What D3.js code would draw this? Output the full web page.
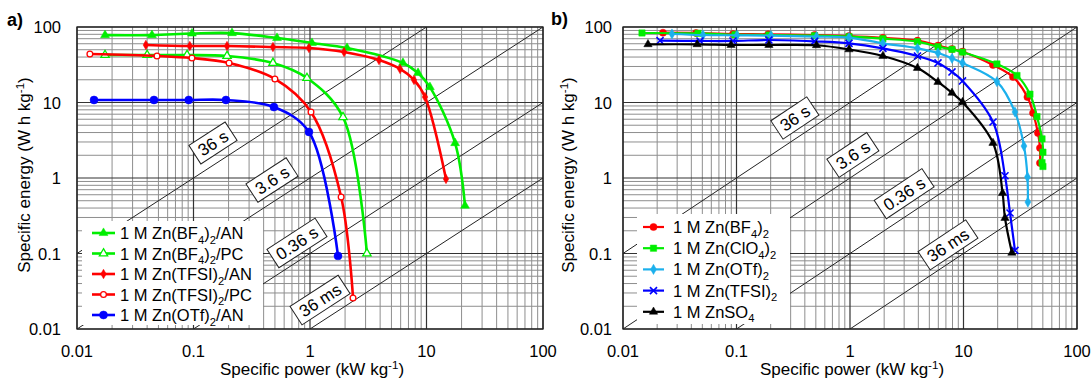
<!DOCTYPE html>
<html><head><meta charset="utf-8">
<script src="https://cdn.jsdelivr.net/npm/d3@7"></script>
<style>body{margin:0;background:#fff}svg{display:block}text{font-family:"Liberation Sans",Arial,sans-serif;fill:#000}</style>
</head><body><svg id="c" width="1092" height="383"></svg>
<script>
// ---------- data ----------
const xTickValues=[0.01,0.1,1,10,100];
const xTickLabels=["0.01","0.1","1","10","100"];
const yTickValues=[0.01,0.1,1,10,100];
const yTickLabels=["0.01","0.1","1","10","100"];
const timeRatios=[10,1,0.1,0.01];           // E/P  (Wh/kg per kW/kg)
const timeLabels=["36 s","3.6 s","0.36 s","36 ms"];
const timeAnchorsA=[[0.147,2.91],[0.472,0.94],[0.773,0.138],[1.22,0.0242]];
const timeAnchorsB=[[0.327,6.24],[1.06,2.02],[3.0,0.62],[7.3,0.13]];

// panel a  [P (kW/kg), E (Wh/kg)]
const aBF4AN=[[0.0174,78],[0.044,78],[0.097,82],[0.214,83],[0.521,71.5],[1.04,61.4],[2.08,52.7],[6.28,33.4],[8.46,24.6],[10.7,16],[17.6,2.9],[21.4,0.43]];
const aBF4PC=[[0.0174,42.5],[0.040,42.5],[0.088,42.5],[0.194,41.3],[0.481,33.4],[0.942,21.1],[1.92,6.4],[3.08,0.10]];
const aTFSIAN=[[0.039,57.8],[0.093,56],[0.194,56],[0.481,54.3],[0.98,52.7],[1.96,46.6],[3.91,36.5],[5.93,27.8],[7.81,19.9],[9.71,11.8],[14.7,0.97]];
const aTFSIPC=[[0.0129,43.9],[0.0486,41.3],[0.097,38.8],[0.202,33.4],[0.50,20.5],[1.02,7.48],[1.85,0.56],[2.34,0.0258]];
const aOTfAN=[[0.014,10.8],[0.0458,10.8],[0.091,10.8],[0.19,10.8],[0.49,8.7],[0.98,4.07],[1.74,0.093]];
const aNames=[
 [["1 M Zn(BF","n"],["4","sub"],[")","n"],["2","sub"],["/AN","n"]],
 [["1 M Zn(BF","n"],["4","sub"],[")","n"],["2","sub"],["/PC","n"]],
 [["1 M Zn(TFSI)","n"],["2","sub"],["/AN","n"]],
 [["1 M Zn(TFSI)","n"],["2","sub"],["/PC","n"]],
 [["1 M Zn(OTf)","n"],["2","sub"],["/AN","n"]]
];

// panel b
const bBF4=[[0.0225,84],[0.044,83.3],[0.0931,80.8],[0.19,80.1],[0.487,78.3],[0.98,76],[1.95,72],[3.93,65.9],[5.96,56.8],[7.92,51.1],[9.8,47.1],[18.2,31.4],[27.3,21.8],[36.6,11.8],[41,7.26],[45.3,3.94],[47.2,2.5],[47.2,1.58]];
const bClO4=[[0.0147,83.3],[0.0458,82.5],[0.097,79.1],[0.193,78.3],[0.487,76.7],[0.98,74.4],[1.95,70],[3.93,63.9],[5.96,54.8],[7.92,50.6],[9.8,46.5],[19.7,32.4],[29.6,22.8],[38.5,12.9],[44.4,6.5],[49.2,3.3],[50.1,2.2],[49.2,1.6],[50.1,1.42]];
const bOTf=[[0.027,80.8],[0.0507,78.3],[0.101,77.6],[0.201,76.7],[0.507,74.5],[0.98,72.5],[1.95,60.8],[3.93,52.2],[5.96,45.3],[7.92,38.5],[9.8,33.4],[19.7,18.9],[28.4,7.48],[34.1,2.65],[36.6,1.03],[36.9,0.48]];
const bTFSI=[[0.0212,65.9],[0.0477,65.3],[0.0931,65.3],[0.193,67.3],[0.487,64.5],[0.98,60.8],[1.95,52.2],[3.93,41.3],[5.96,33.4],[7.92,25.4],[9.8,19.3],[18.2,5.52],[23.2,1.07],[25.7,0.344],[28.4,0.11]];
const bSO4=[[0.0166,59],[0.045,59],[0.0895,57.8],[0.193,57.8],[0.507,57.3],[0.98,50.5],[1.95,41.3],[3.93,28.6],[5.96,18.7],[7.92,13.4],[9.8,10.1],[18.2,2.91],[22.1,0.63],[23.2,0.295],[26.7,0.102]];
const bNames=[
 [["1 M Zn(BF","n"],["4","sub"],[")","n"],["2","sub"]],
 [["1 M Zn(ClO","n"],["4","sub"],[")","n"],["2","sub"]],
 [["1 M Zn(OTf)","n"],["2","sub"]],
 [["1 M Zn(TFSI)","n"],["2","sub"]],
 [["1 M ZnSO","n"],["4","sub"]]
];

// ---------- drawing ----------
const svg=d3.select("#c");
const GREEN="#00ee00",RED="#ff0000",BLUE="#0000ff",LBLUE="#1cb0ec",BLACK="#000";

function rich(sel,parts,size){
  let shift=0;
  parts.forEach(([t,ty])=>{
    const target=ty==="sub"?0.28*size:ty==="sup"?-0.38*size:0;
    sel.append("tspan").attr("dy",target-shift).attr("font-size",ty==="n"?size:size*0.68).text(t);
    shift=target;
  });
}

function marker(sel,m){
  const sym={tri:d3.symbolTriangle,circle:d3.symbolCircle,diamond:d3.symbolDiamond,square:d3.symbolSquare,x:d3.symbolX}[m.shape];
  const p=sel.append("path").attr("d",d3.symbol().type(sym).size(m.size)());
  if(m.shape==="x") p.attr("fill","none").attr("stroke",m.color).attr("stroke-width",1.6);
  else if(m.open) p.attr("fill","#fff").attr("stroke",m.color).attr("stroke-width",1.3);
  else p.attr("fill",m.color).attr("stroke",m.color).attr("stroke-width",0.5);
  return p;
}

function drawPanel(o){
  const g=svg.append("g");
  const x=d3.scaleLog().domain([0.01,100]).range([o.x0,o.x1]);
  const y=d3.scaleLog().domain([0.01,100]).range([o.y1,o.y0]);
  const cid="clip"+o.id;
  svg.append("clipPath").attr("id",cid).append("rect").attr("x",o.x0).attr("y",o.y0).attr("width",o.x1-o.x0).attr("height",o.y1-o.y0);
  const minor=[];for(let d=-2;d<2;d++)for(let m=2;m<10;m++)minor.push(m*Math.pow(10,d));
  const grid=g.append("g");
  grid.selectAll(".vm").data(minor).join("line").attr("x1",d=>x(d)).attr("x2",d=>x(d)).attr("y1",o.y0).attr("y2",o.y1).attr("stroke","#8e8e8e").attr("stroke-width",1);
  grid.selectAll(".hm").data(minor).join("line").attr("y1",d=>y(d)).attr("y2",d=>y(d)).attr("x1",o.x0).attr("x2",o.x1).attr("stroke","#8e8e8e").attr("stroke-width",1);
  grid.selectAll(".vM").data(xTickValues).join("line").attr("x1",d=>x(d)).attr("x2",d=>x(d)).attr("y1",o.y0).attr("y2",o.y1).attr("stroke","#333").attr("stroke-width",1.2);
  grid.selectAll(".hM").data(yTickValues).join("line").attr("y1",d=>y(d)).attr("y2",d=>y(d)).attr("x1",o.x0).attr("x2",o.x1).attr("stroke","#333").attr("stroke-width",1.2);
  // constant-time lines
  g.append("g").attr("clip-path",`url(#${cid})`).selectAll("line").data(timeRatios).join("line")
    .attr("x1",x(0.0001)).attr("y1",k=>y(k*0.0001)).attr("x2",x(100)).attr("y2",k=>y(k*100))
    .attr("stroke","#222").attr("stroke-width",1);
  // legend background
  g.append("rect").attr("x",o.leg.x).attr("y",o.leg.y).attr("width",o.leg.w).attr("height",o.leg.h).attr("fill","#fff");
  // time labels
  const ang=Math.atan2(y(10)-y(1),x(10)-x(1))*180/Math.PI;
  o.anchors.forEach((a,i)=>{
    const lg=g.append("g").attr("transform",`translate(${x(a[0])},${y(a[1])}) rotate(${ang})`);
    const r=lg.append("rect");
    const t=lg.append("text").attr("text-anchor","middle").attr("dy","0.36em").attr("font-size",17).text(timeLabels[i]);
    const w=t.node().getComputedTextLength()+11;
    r.attr("x",-w/2).attr("y",-11).attr("width",w).attr("height",22).attr("fill","#fff").attr("stroke","#222").attr("stroke-width",1);
  });
  // series
  const line=d3.line().x(d=>x(d[0])).y(d=>y(d[1])).curve(d3.curveCatmullRom.alpha(0.5));
  o.series.forEach(s=>{
    g.append("path").attr("d",line(s.data)).attr("fill","none").attr("stroke",s.m.color).attr("stroke-width",o.lw);
    s.data.forEach(d=>marker(g,s.m).attr("transform",`translate(${x(d[0])},${y(d[1])})`));
  });
  // legend entries
  o.series.forEach((s,i)=>{
    const cy=o.leg.y0+i*o.leg.dy;
    g.append("line").attr("x1",o.leg.lx).attr("x2",o.leg.lx+o.leg.lw).attr("y1",cy).attr("y2",cy).attr("stroke",s.m.color).attr("stroke-width",o.lw);
    marker(g,s.m).attr("transform",`translate(${o.leg.lx+o.leg.lw/2},${cy})`);
    const t=g.append("text").attr("x",o.leg.tx).attr("y",cy+6);
    rich(t,o.names[i],16.5);
  });
  // frame
  g.append("rect").attr("x",o.x0).attr("y",o.y0).attr("width",o.x1-o.x0).attr("height",o.y1-o.y0).attr("fill","none").attr("stroke","#222").attr("stroke-width",1.3);
  // tick labels
  g.selectAll(".xt").data(xTickValues).join("text").attr("x",d=>x(d)).attr("y",o.y1+28).attr("text-anchor","middle").attr("font-size",16.5).text((d,i)=>xTickLabels[i]);
  g.selectAll(".yt").data(yTickValues).join("text").attr("x",o.x0-o.ytGap).attr("y",d=>y(d)+6).attr("text-anchor","end").attr("font-size",16.5).text((d,i)=>yTickLabels[i]);
  // axis titles
  const xt=g.append("text").attr("x",x(1)+2).attr("y",o.y1+46).attr("text-anchor","middle");
  rich(xt,[["Specific power  (kW kg","n"],["-1","sup"],[")","n"]],17);
  const yt=g.append("text").attr("transform",`translate(${o.ytx},175) rotate(-90)`).attr("text-anchor","middle");
  rich(yt,[["Specific energy (W h kg","n"],["-1","sup"],[")","n"]],17);
  svg.append("text").attr("x",o.lab[0]).attr("y",o.lab[1]).attr("font-family","Liberation Serif,Times New Roman,serif").attr("font-weight","bold").attr("font-size",18).text(o.label);
}

drawPanel({id:"a",x0:77,x1:543,y0:27,y1:329,lw:2.6,ytGap:16,ytx:30,label:"a)",lab:[7,26],
  anchors:timeAnchorsA,names:aNames,
  leg:{x:82,y:221,w:181,h:104,y0:233,dy:20.5,lx:92,lw:23,tx:120},
  series:[
    {data:aBF4AN,m:{shape:"tri",size:34,color:GREEN}},
    {data:aBF4PC,m:{shape:"tri",size:30,color:GREEN,open:true}},
    {data:aTFSIAN,m:{shape:"diamond",size:26,color:RED}},
    {data:aTFSIPC,m:{shape:"circle",size:26,color:RED,open:true}},
    {data:aOTfAN,m:{shape:"circle",size:50,color:BLUE}}
  ]});

drawPanel({id:"b",x0:623,x1:1077,y0:27,y1:329,lw:2.2,ytGap:11,ytx:574,label:"b)",lab:[551,25],
  anchors:timeAnchorsB,names:bNames,
  leg:{x:637,y:214,w:153,h:110,y0:227,dy:21.2,lx:643,lw:21,tx:673},
  series:[
    {data:bBF4,m:{shape:"circle",size:40,color:RED}},
    {data:bClO4,m:{shape:"square",size:40,color:GREEN}},
    {data:bOTf,m:{shape:"diamond",size:30,color:LBLUE}},
    {data:bTFSI,m:{shape:"x",size:34,color:BLUE}},
    {data:bSO4,m:{shape:"tri",size:30,color:BLACK}}
  ]});
</script></body></html>
